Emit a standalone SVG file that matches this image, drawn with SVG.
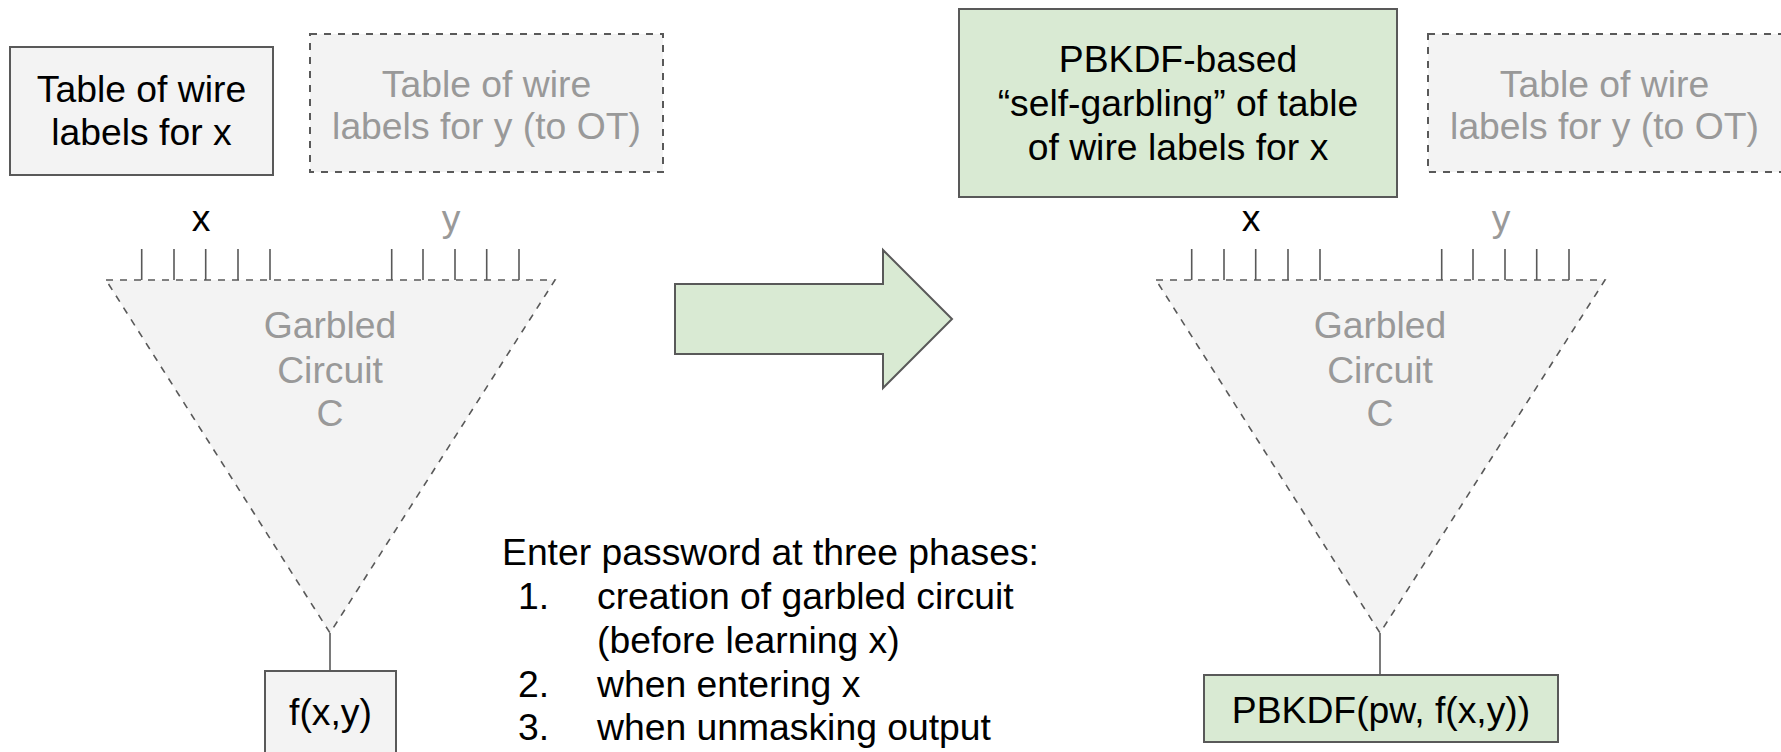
<svg xmlns="http://www.w3.org/2000/svg" width="1781" height="752" viewBox="0 0 1781 752">
  <defs>
    <style>
      text { font-family: "Liberation Sans", Arial, sans-serif; font-size: 37.3px; }
      .dark { fill: #000000; }
      .muted { fill: #999999; }
      .mid { text-anchor: middle; }
      .box { fill: #f3f3f3; stroke: #595959; stroke-width: 2; }
      .green { fill: #d9ead3; stroke: #595959; stroke-width: 2; }
      .dashed { fill: #f3f3f3; stroke: #595959; stroke-width: 2; stroke-dasharray: 7 7; }
      .tri { fill: #f3f3f3; stroke: #595959; stroke-width: 1.6; stroke-dasharray: 7 7; }
      .wire { stroke: #595959; stroke-width: 1.6; fill: none; }
    </style>
  </defs>

  <rect width="1781" height="752" fill="#ffffff"/>

  <!-- ===== Left: plain garbled circuit ===== -->
  <g id="left-x-table">
    <rect class="box" x="10" y="47" width="263" height="128"/>
    <text class="dark mid" x="141.5" y="102">Table of wire</text>
    <text class="dark mid" x="141.5" y="145">labels for x</text>
  </g>

  <g id="left-y-table">
    <rect class="dashed" x="310" y="34" width="353" height="138"/>
    <text class="muted mid" x="486.5" y="97">Table of wire</text>
    <text class="muted mid" x="486.5" y="139">labels for y (to OT)</text>
  </g>

  <g id="left-circuit">
    <polygon class="tri" points="106,280 555,280 330,633"/>
    <text class="muted mid" x="330" y="338">Garbled</text>
    <text class="muted mid" x="330" y="383">Circuit</text>
    <text class="muted mid" x="330" y="426">C</text>
  </g>

  <g id="left-input-labels">
    <text class="dark mid" x="201" y="231">x</text>
    <text class="muted mid" x="451" y="231">y</text>
  </g>

  <g id="left-output">
    <rect class="box" x="265" y="671" width="131" height="95"/>
    <text class="dark mid" x="330.5" y="725">f(x,y)</text>
  </g>

  <!-- ===== Middle: transformation arrow and notes ===== -->
  <g id="transform-arrow">
    <polygon class="green" points="675,284 883,284 883,250 952,319 883,388 883,354 675,354"/>
  </g>

  <g id="password-notes">
    <text class="dark" x="502" y="565">Enter password at three phases:</text>
    <text class="dark" x="518" y="609">1.</text>
    <text class="dark" x="597" y="609">creation of garbled circuit</text>
    <text class="dark" x="597" y="653">(before learning x)</text>
    <text class="dark" x="518" y="697">2.</text>
    <text class="dark" x="597" y="697">when entering x</text>
    <text class="dark" x="518" y="740">3.</text>
    <text class="dark" x="597" y="740">when unmasking output</text>
  </g>

  <!-- ===== Right: password-hardened circuit ===== -->
  <g id="right-x-table">
    <rect class="green" x="959" y="9" width="438" height="188"/>
    <text class="dark mid" x="1178" y="72">PBKDF-based</text>
    <text class="dark mid" x="1178" y="116">“self-garbling” of table</text>
    <text class="dark mid" x="1178" y="160">of wire labels for x</text>
  </g>

  <g id="right-y-table">
    <rect class="dashed" x="1428" y="34" width="362" height="138"/>
    <text class="muted mid" x="1604.5" y="97">Table of wire</text>
    <text class="muted mid" x="1604.5" y="139">labels for y (to OT)</text>
  </g>

  <g id="right-circuit">
    <polygon class="tri" points="1156,280 1605,280 1380,633"/>
    <text class="muted mid" x="1380" y="338">Garbled</text>
    <text class="muted mid" x="1380" y="383">Circuit</text>
    <text class="muted mid" x="1380" y="426">C</text>
  </g>

  <g id="right-input-labels">
    <text class="dark mid" x="1251" y="231">x</text>
    <text class="muted mid" x="1501" y="231">y</text>
  </g>

  <g id="right-output">
    <rect class="green" x="1204" y="675" width="354" height="67"/>
    <text class="dark mid" x="1381" y="723">PBKDF(pw, f(x,y))</text>
  </g>

  <!-- ===== Wires: circuit inputs and outputs ===== -->
  <g id="connectors">
    <!-- left input wires -->
    <path class="wire" d="M141.7,249V280 M174,249V280 M205.7,249V280 M238,249V280 M270,249V280
                          M391.7,249V280 M423,249V280 M455,249V280 M486.7,249V280 M519,249V280"/>
    <!-- left output wire -->
    <path class="wire" d="M330,633V671"/>
    <!-- right input wires -->
    <path class="wire" d="M1191.7,249V280 M1224,249V280 M1255.7,249V280 M1288,249V280 M1320,249V280
                          M1441.7,249V280 M1473,249V280 M1505,249V280 M1536.7,249V280 M1569,249V280"/>
    <!-- right output wire -->
    <path class="wire" d="M1380,633V675"/>
  </g>
</svg>
